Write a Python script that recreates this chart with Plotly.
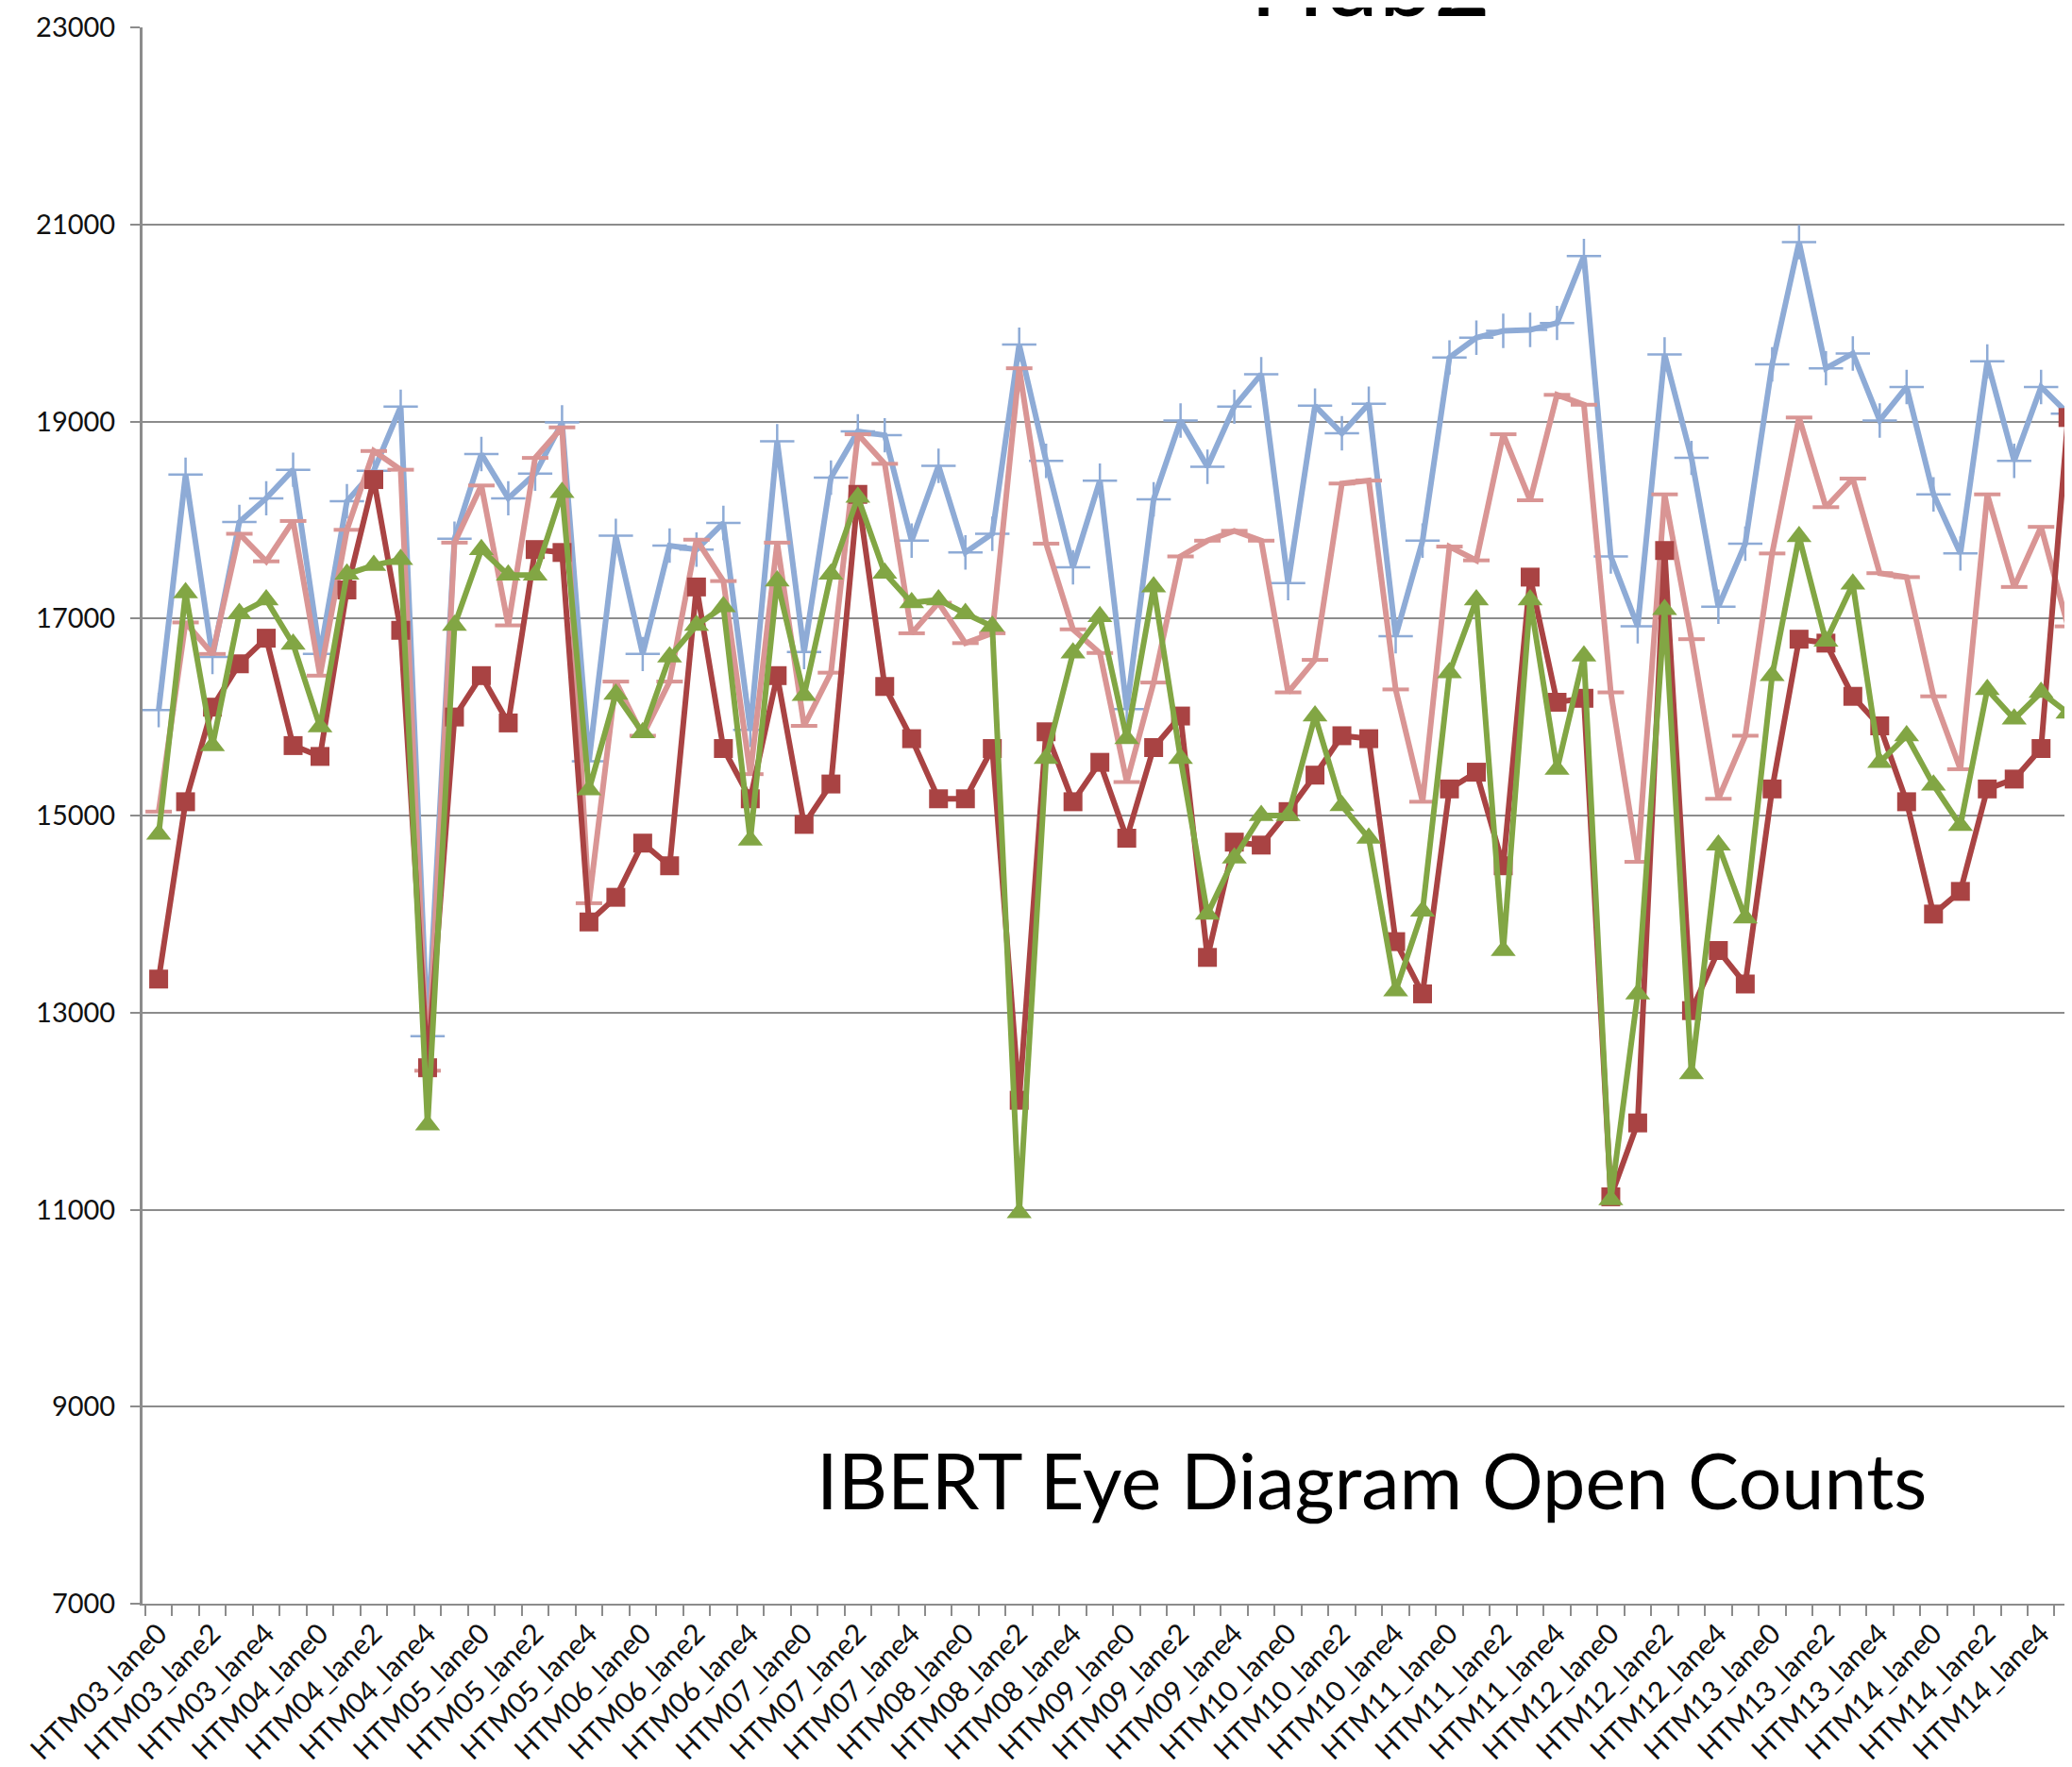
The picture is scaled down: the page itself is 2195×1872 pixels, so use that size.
import plotly.graph_objects as go

modules = [f"HTM{n:02d}" for n in range(3, 15)]
lanes = [f"lane{k}" for k in range(6)]
categories = [f"{m}_{l}" for m in modules for l in lanes]
tick_labels = categories[::2]
y_ticks = list(range(7000, 23001, 2000))

blue = [16070, 18460, 16610, 17980, 18220, 18510, 16640, 18190, 18500, 19150, 12760, 17810,
        18670, 18220, 18470, 18990, 15550, 17840, 16640, 17740, 17700, 17970, 15870, 18800,
        16660, 18430, 18900, 18860, 17790, 18550, 17670, 17860, 19780, 18600, 17520, 18400,
        16080, 18210, 19010, 18540, 19150, 19480, 17360, 19160, 18880, 19180, 16820, 17790,
        19650, 19850, 19920, 19930, 20000, 20680, 17630, 16920, 19680, 18630, 17120, 17760,
        19580, 20820, 19540, 19690, 19010, 19350, 18260, 17660, 19610, 18600, 19350, 19080]

pink = [15040, 16960, 16640, 17860, 17580, 17990, 16420, 17900, 18700, 18510, 12410, 17770,
        18350, 16930, 18630, 18940, 14110, 16360, 15810, 16360, 17800, 17380, 15420, 17770,
        15910, 16450, 18870, 18570, 16850, 17160, 16750, 16850, 19540, 17760, 16890, 16650,
        15340, 16350, 17630, 17790, 17890, 17790, 16250, 16580, 18370, 18400, 16280, 15140,
        17730, 17590, 18870, 18200, 19270, 19170, 16250, 14530, 18260, 16790, 15170, 15810,
        17660, 19040, 18130, 18420, 17460, 17420, 16210, 15470, 18260, 17320, 17930, 16920]

red = [13340, 15140, 16100, 16540, 16800, 15710, 15600, 17290, 18410, 16880, 12440, 16000,
       16420, 15940, 17700, 17670, 13920, 14170, 14720, 14490, 17320, 15680, 15170, 16420,
       14910, 15320, 18260, 16310, 15780, 15170, 15170, 15680, 12110, 15850, 15140, 15540,
       14770, 15690, 16010, 13560, 14730, 14700, 15040, 15410, 15810, 15780, 13720, 13190,
       15270, 15440, 14490, 17420, 16150, 16190, 11130, 11880, 17690, 13020, 13630, 13290,
       15270, 16790, 16750, 16210, 15910, 15140, 14000, 14230, 15270, 15370, 15680, 19040]

green = [14810, 17260, 15710, 17050, 17190, 16740, 15900, 17450, 17540, 17600, 11860, 16930,
         17700, 17440, 17440, 18280, 15260, 16230, 15840, 16610, 16930, 17120, 14750, 17380,
         16220, 17450, 18230, 17460, 17160, 17190, 17050, 16920, 10970, 15580, 16650, 17020,
         15780, 17320, 15580, 14000, 14570, 15000, 15000, 16010, 15100, 14770, 13220, 14030,
         16450, 17190, 13630, 17190, 15470, 16620, 11100, 13190, 17090, 12380, 14700, 13960,
         16420, 17830, 16770, 17350, 15540, 15810, 15310, 14900, 16280, 15980, 16250, 16040]

C_BLUE = "#8EABD6"
C_PINK = "#D99594"
C_RED = "#A94343"
C_GREEN = "#82A644"
GRID = "#8C8C8C"
FONT = "Lato"

fig = go.Figure()
fig.add_trace(go.Scatter(x=categories, y=blue, mode="lines+markers", name="Series 1",
                         line=dict(color=C_BLUE, width=6),
                         marker=dict(symbol="cross-thin", size=26, line=dict(color=C_BLUE, width=2.5))))
fig.add_trace(go.Scatter(x=categories, y=pink, mode="lines+markers", name="Series 2",
                         line=dict(color=C_PINK, width=6),
                         marker=dict(symbol="line-ew", size=20, line=dict(color=C_PINK, width=4))))
fig.add_trace(go.Scatter(x=categories, y=red, mode="lines+markers", name="Series 3",
                         line=dict(color=C_RED, width=6),
                         marker=dict(symbol="square", size=20, color=C_RED)))
fig.add_trace(go.Scatter(x=categories, y=green, mode="lines+markers", name="Series 4",
                         line=dict(color=C_GREEN, width=6),
                         marker=dict(symbol="triangle-up", size=23, color=C_GREEN)))

xr = [-0.6, 71.15]
# invisible helper trace on overlay axis for boundary tick marks
fig.add_trace(go.Scatter(x=[xr[0]], y=[7000], xaxis="x2", mode="markers",
                         marker=dict(opacity=0), showlegend=False, hoverinfo="skip"))

fig.update_layout(
    width=2187, height=1872,
    margin=dict(l=143, r=0, t=21, b=181),
    paper_bgcolor="white", plot_bgcolor="white",
    showlegend=False,
    font=dict(family=FONT, color="black"),
    xaxis=dict(type="category", range=xr, tickmode="array", tickvals=tick_labels,
               ticktext=tick_labels, tickangle=-45, ticks="", showgrid=False,
               showline=True, linecolor=GRID, linewidth=2,
               tickfont=dict(family=FONT, size=30, color="#111111")),
    xaxis2=dict(overlaying="x", anchor="y", side="bottom", range=xr,
                tickmode="array", tickvals=[k - 0.5 for k in range(len(categories) + 1)],
                ticks="outside", ticklen=12, tickwidth=2, tickcolor=GRID,
                showticklabels=False, showgrid=False, showline=False, zeroline=False),
    yaxis=dict(range=[7000, 23000], tickmode="array", tickvals=y_ticks,
               ticktext=[str(v) for v in y_ticks],
               showgrid=True, gridcolor=GRID, gridwidth=2, zeroline=False,
               showline=True, linecolor=GRID, linewidth=3,
               ticks="outside", ticklen=10, tickwidth=2, tickcolor=GRID,
               ticklabelstandoff=10,
               tickfont=dict(family=FONT, size=29, color="#111111")),
    annotations=[
        dict(text="Hub2", xref="paper", yref="paper", x=0.6364, y=0.993,
             xanchor="center", yanchor="bottom", showarrow=False,
             font=dict(family=FONT, size=104, color="black")),
        dict(text="IBERT Eye Diagram Open Counts", xref="paper", yref="paper",
             x=0.637, y=0.0785, xanchor="center", yanchor="middle", showarrow=False,
             font=dict(family=FONT, size=81, color="black")),
    ],
    shapes=[dict(type="line", xref="paper", yref="paper", x0=-0.0719, x1=-0.0719,
                 y0=-0.12, y1=1.02, line=dict(color=GRID, width=2))],
)

fig.write_html("out.html")
